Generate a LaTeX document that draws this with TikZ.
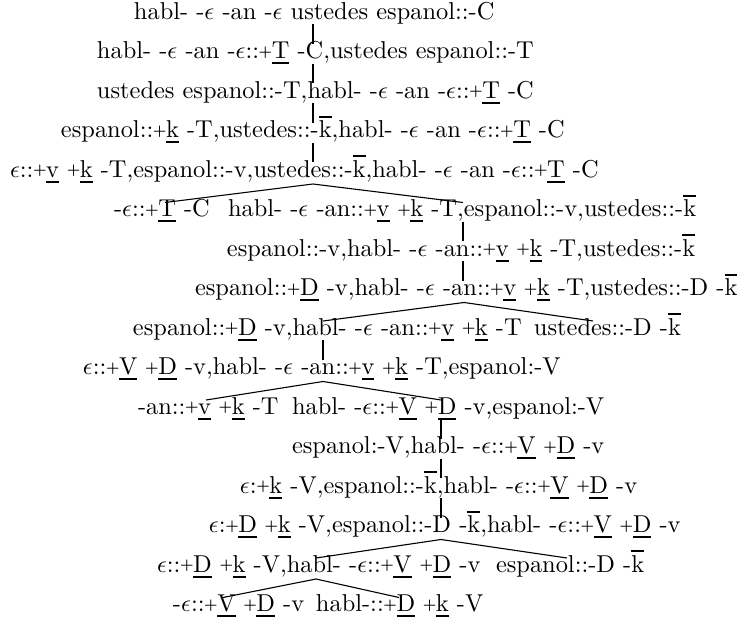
\documentclass[tikz,border=0pt]{standalone}
\usepackage{graphicx}
\newcommand\ep{\ensuremath{\epsilon}}
\newcommand\pl{\makebox[5.2pt]{\raisebox{0.9pt}{\scalebox{0.62}{\bfseries +}}}}
\newcommand\ul[1]{\setbox0\hbox{#1}\rlap{\rule[-2.3pt]{\wd0}{0.75pt}}\box0\relax}
\newcommand\ovl[1]{\setbox0\hbox{#1}\rlap{\rule[8.1pt]{\wd0}{0.75pt}}\box0\relax}
\begin{document}
\begin{tikzpicture}[x=0.4098pt,y=-0.4098pt,
  lbl/.style={anchor=base west,inner sep=0pt,outer sep=0pt,font=\fontsize{10}{12}\selectfont},
  edge/.style={line width=0.45pt}]
\useasboundingbox (0,0) rectangle (744,621);
% nodes
\node[lbl] (r1) at (134,19) {habl- -\ep{} -an -\ep{} ustedes espanol::-C};
\node[lbl] (r2) at (97,58.5) {habl- -\ep{} -an -\ep::\pl\ul{T} -C,ustedes espanol::-T};
\node[lbl] (r3) at (97,98) {ustedes espanol::-T,habl- -\ep{} -an -\ep::\pl\ul{T} -C};
\node[lbl] (r4) at (61,137.5) {espanol::\pl\ul{k} -T,ustedes::-\ovl{k},habl- -\ep{} -an -\ep::\pl\ul{T} -C};
\node[lbl] (r5) at (10,177) {\ep::\pl\ul{v} \pl\ul{k} -T,espanol::-v,ustedes::-\ovl{k},habl- -\ep{} -an -\ep::\pl\ul{T} -C};
\node[lbl] (r6l) at (114,216.5) {-\ep::\pl\ul{T} -C};
\node[lbl] (r6r) at (228,216.5) {habl- -\ep{} -an::\pl\ul{v} \pl\ul{k} -T,espanol::-v,ustedes::-\ovl{k}};
\node[lbl] (r7) at (227,256) {espanol::-v,habl- -\ep{} -an::\pl\ul{v} \pl\ul{k} -T,ustedes::-\ovl{k}};
\node[lbl] (r8) at (195,295.5) {espanol::\pl\ul{D} -v,habl- -\ep{} -an::\pl\ul{v} \pl\ul{k} -T,ustedes::-D -\ovl{k}};
\node[lbl] (r9l) at (133,335) {espanol::\pl\ul{D} -v,habl- -\ep{} -an::\pl\ul{v} \pl\ul{k} -T};
\node[lbl] (r9r) at (534,335) {ustedes::-D -\ovl{k}};
\node[lbl] (r10) at (83,374.5) {\ep::\pl\ul{V} \pl\ul{D} -v,habl- -\ep{} -an::\pl\ul{v} \pl\ul{k} -T,espanol:-V};
\node[lbl] (r11l) at (138,414) {-an::\pl\ul{v} \pl\ul{k} -T};
\node[lbl] (r11r) at (292,414) {habl- -\ep::\pl\ul{V} \pl\ul{D} -v,espanol:-V};
\node[lbl] (r12) at (292,453.5) {espanol:-V,habl- -\ep::\pl\ul{V} \pl\ul{D} -v};
\node[lbl] (r13) at (240,493) {\ep:\pl\ul{k} -V,espanol::-\ovl{k},habl- -\ep::\pl\ul{V} \pl\ul{D} -v};
\node[lbl] (r14) at (209,532.5) {\ep:\pl\ul{D} \pl\ul{k} -V,espanol::-D -\ovl{k},habl- -\ep::\pl\ul{V} \pl\ul{D} -v};
\node[lbl] (r15l) at (157,572) {\ep::\pl\ul{D} \pl\ul{k} -V,habl- -\ep::\pl\ul{V} \pl\ul{D} -v};
\node[lbl] (r15r) at (496,572) {espanol::-D -\ovl{k}};
\node[lbl] (r16l) at (173,611.5) {-\ep::\pl\ul{V} \pl\ul{D} -v};
\node[lbl] (r16r) at (316,611.5) {habl-::\pl\ul{D} \pl\ul{k} -V};
% attachment points
\coordinate (r1b) at (313,24);   \coordinate (r2t) at (313,43.5);
\coordinate (r2b) at (313,63.5); \coordinate (r3t) at (313,83);
\coordinate (r3b) at (313,103);  \coordinate (r4t) at (313,122.5);
\coordinate (r4b) at (313,142.5);\coordinate (r5t) at (313,162);
\coordinate (r5b) at (313,184);  \coordinate (r6lt) at (165,202.5); \coordinate (r6rt) at (463,202.5);
\coordinate (r6rb) at (463,221.5); \coordinate (r7t) at (463,241);
\coordinate (r7b) at (463,261);  \coordinate (r8t) at (463,280.5);
\coordinate (r8b) at (464,302.5); \coordinate (r9lt) at (323,321); \coordinate (r9rt) at (593,321);
\coordinate (r9lb) at (323,340); \coordinate (r10t) at (323,359.5);
\coordinate (r10b) at (323,381.5); \coordinate (r11lt) at (206,400); \coordinate (r11rt) at (441,400);
\coordinate (r11rb) at (441,419); \coordinate (r12t) at (441,438.5);
\coordinate (r12b) at (441,458.5); \coordinate (r13t) at (441,478);
\coordinate (r13b) at (441,498); \coordinate (r14t) at (441,517.5);
\coordinate (r14b) at (441,539.5); \coordinate (r15lt) at (316,558); \coordinate (r15rt) at (567,558);
\coordinate (r15lb) at (316,579); \coordinate (r16lt) at (223,597.5); \coordinate (r16rt) at (399,597.5);
% connectors
\draw[edge] (r1b) -- (r2t);
\draw[edge] (r2b) -- (r3t);
\draw[edge] (r3b) -- (r4t);
\draw[edge] (r4b) -- (r5t);
\draw[edge] (r6lt) -- (r5b) -- (r6rt);
\draw[edge] (r6rb) -- (r7t);
\draw[edge] (r7b) -- (r8t);
\draw[edge] (r9lt) -- (r8b) -- (r9rt);
\draw[edge] (r9lb) -- (r10t);
\draw[edge] (r11lt) -- (r10b) -- (r11rt);
\draw[edge] (r11rb) -- (r12t);
\draw[edge] (r12b) -- (r13t);
\draw[edge] (r13b) -- (r14t);
\draw[edge] (r15lt) -- (r14b) -- (r15rt);
\draw[edge] (r16lt) -- (r15lb) -- (r16rt);
\end{tikzpicture}
\end{document}
